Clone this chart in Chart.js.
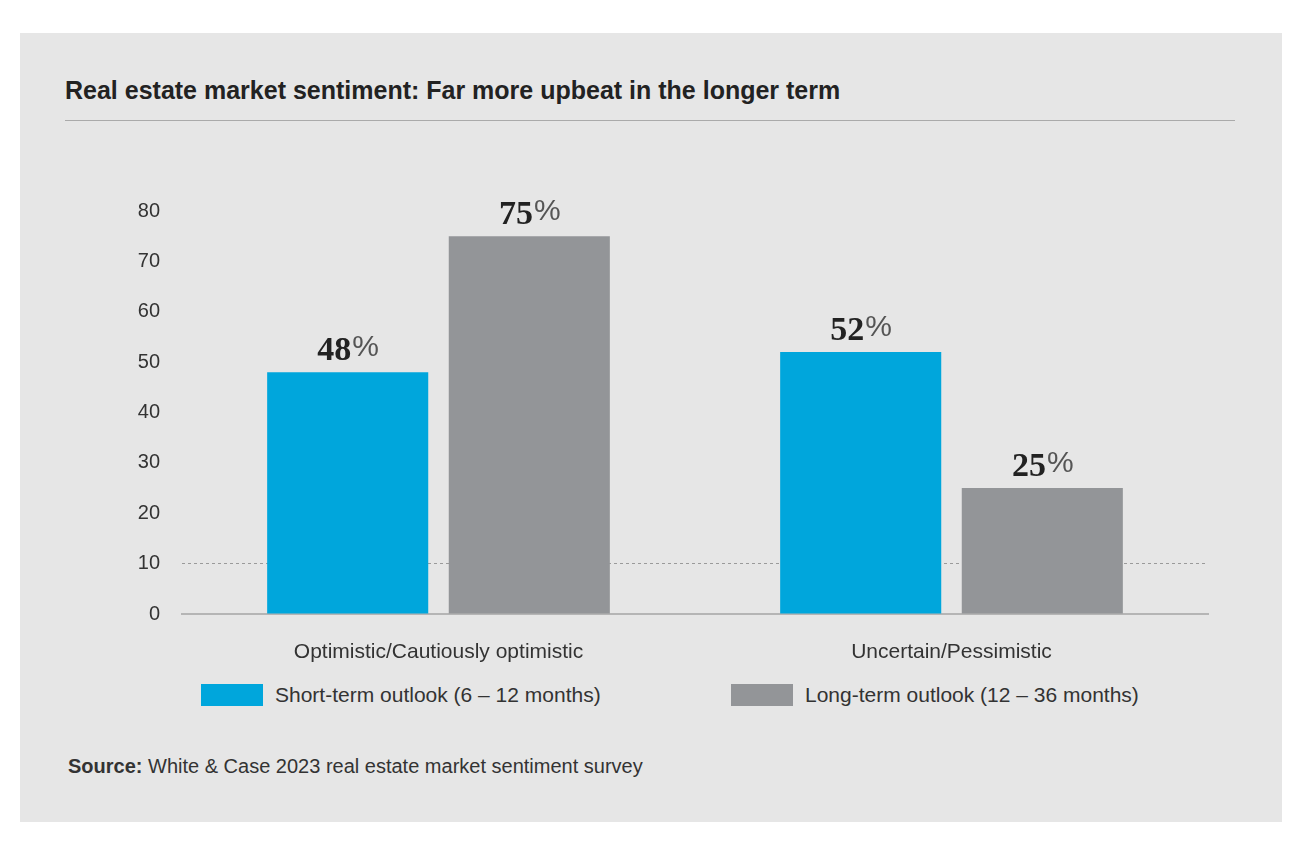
<!DOCTYPE html>
<html><head><meta charset="utf-8">
<script src="https://cdn.jsdelivr.net/npm/chart.js@4"></script>
<style>
body{margin:0;background:#fff;font-family:"Liberation Sans",Arial,sans-serif;}
#panel{position:absolute;left:20px;top:33px;width:1262px;height:789px;background:#e6e6e6;}
#title{position:absolute;left:45px;top:43px;font-size:25px;font-weight:bold;color:#222;}
#rule{position:absolute;left:45px;top:87px;width:1170px;height:1px;background:#aaa;}
#wrap{position:absolute;left:0;top:97px;width:1262px;height:540px;}
.leg{position:absolute;top:650px;font-size:21px;color:#333;display:flex;align-items:center;}
.leg i{display:inline-block;width:62px;height:22px;margin-right:12px;}
#src{position:absolute;left:48px;top:722px;font-size:20px;color:#333;}
</style></head><body>
<div id="panel">
  <div id="title">Real estate market sentiment: Far more upbeat in the longer term</div>
  <div id="rule"></div>
  <div id="wrap"><canvas id="c" width="1262" height="540"></canvas></div>
  <div class="leg" style="left:181px"><i style="background:#00a6dc"></i>Short-term outlook (6 – 12 months)</div>
  <div class="leg" style="left:711px"><i style="background:#939598"></i>Long-term outlook (12 – 36 months)</div>
  <div id="src"><b>Source:</b> White &amp; Case 2023 real estate market sentiment survey</div>
</div>
<script>
const categories = ["Optimistic/Cautiously optimistic", "Uncertain/Pessimistic"];
const shortTerm = [48, 52];
const longTerm = [75, 25];
const yTicks = [0, 10, 20, 30, 40, 50, 60, 70, 80];

const valueLabels = {
  id: "valueLabels",
  afterDatasetsDraw(chart){
    const ctx = chart.ctx;
    chart.data.datasets.forEach((ds, i)=>{
      chart.getDatasetMeta(i).data.forEach((bar, j)=>{
        const num = String(ds.data[j]);
        ctx.save();
        ctx.textBaseline = "alphabetic";
        ctx.font = "bold 34px 'Liberation Serif', serif";
        const w1 = ctx.measureText(num).width;
        ctx.font = "30px 'Liberation Sans', sans-serif";
        const w2 = ctx.measureText("%").width;
        const x = bar.x - (w1 + w2) / 2;
        const y = bar.y - 12;
        ctx.fillStyle = "#222";
        ctx.font = "bold 34px 'Liberation Serif', serif";
        ctx.fillText(num, x, y);
        ctx.fillStyle = "#555";
        ctx.font = "30px 'Liberation Sans', sans-serif";
        ctx.fillText("%", x + w1 + 1, y - 4);
        ctx.restore();
      });
    });
  }
};

new Chart(document.getElementById("c"), {
  type: "bar",
  data: {
    labels: categories,
    datasets: [
      {label: "Short-term outlook (6–12 months)", data: shortTerm, backgroundColor: "#00a6dc"},
      {label: "Long-term outlook (12–36 months)", data: longTerm, backgroundColor: "#939598"}
    ]
  },
  options: {
    responsive: false, animation: false,
    layout: {padding: {top: 81, right: 74}},
    categoryPercentage: 0.708, barPercentage: 0.887,
    plugins: {legend: {display: false}, tooltip: {enabled: false}},
    scales: {
      x: {
        afterFit: s => { s.height = 56; },
        grid: {display: false},
        border: {display: true, color: "#b5b5b5", width: 2},
        ticks: {color: "#333", padding: 18, font: {size: 21, family: "'Liberation Sans', sans-serif"}}
      },
      y: {
        min: 0, max: 80,
        afterFit: s => { s.width = 162; },
        afterBuildTicks: s => { s.ticks = yTicks.map(v => ({value: v})); },
        border: {display: false, dash: [3, 3]},
        grid: {color: c => c.tick && c.tick.value === 10 ? "#9a9a9a" : "rgba(0,0,0,0)", drawTicks: false},
        ticks: {color: "#333", padding: 22, font: {size: 20, family: "'Liberation Sans', sans-serif"}}
      }
    }
  },
  plugins: [valueLabels]
});
</script>
</body></html>
